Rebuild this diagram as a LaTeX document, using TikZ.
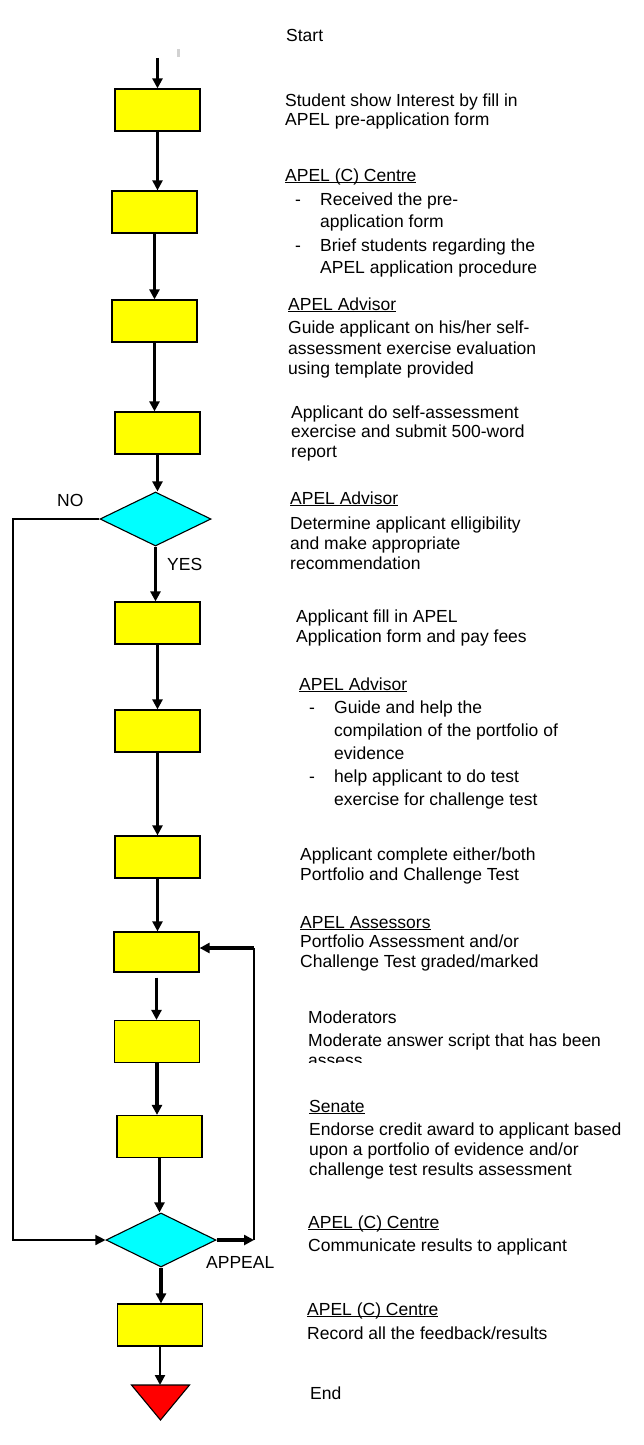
\documentclass[tikz,border=0pt]{standalone}
\usepackage{fontspec}
\setmainfont{Liberation Sans}
\usetikzlibrary{arrows.meta,shapes.geometric}
\definecolor{boxyellow}{RGB}{255,255,0}
\definecolor{decaqua}{RGB}{0,255,255}
\definecolor{endred}{RGB}{255,0,0}
\newcommand\uln[1]{\leavevmode\setbox0\hbox{#1}\rlap{\rule[-2pt]{\wd0}{0.9pt}}\box0}
\newcommand\blk[2]{{\fontsize{17.5}{#1}\selectfont\begin{tabular}[t]{@{}l@{}}#2\end{tabular}}}
\newcommand\itm{\hspace*{10pt}\makebox[25pt][l]{-}}
\newcommand\ind{\hspace*{35pt}}
\begin{document}
\begin{tikzpicture}[x=1pt,y=-1pt,
  box/.style={draw=black,line width=1.2pt,fill=boxyellow,minimum width=85pt,minimum height=42pt,inner sep=0pt},
  dec/.style={diamond,draw=black,line width=1.1pt,fill=decaqua,minimum width=111pt,minimum height=54pt,inner sep=0pt},
  txt/.style={anchor=base west,inner sep=0pt},
  tip/.style={-{Triangle[width=10pt,length=10pt]}},
  thk/.style={line width=3.2pt,tip},
  thn/.style={line width=2.2pt,tip},
  fb/.style={line width=1.4pt}]
\useasboundingbox[fill=white] (0,0) rectangle (644,1445);
% faint mark
\fill[gray!35] (176.5,49) rectangle (179.5,57);
% boxes
\node[box] (b1) at (157.5,110) {};
\node[box] (b2) at (154.5,212) {};
\node[box] (b3) at (154.5,321) {};
\node[box] (b4) at (157.5,433) {};
\node[dec] (d1) at (155.5,519) {};
\node[box] (b5) at (157.5,623) {};
\node[box] (b6) at (157.5,731) {};
\node[box] (b7) at (157.5,857) {};
\node[box,minimum height=40pt] (b8) at (156.5,952) {};
\node[box] (b9) at (157,1041.5) {};
\node[box] (b10) at (159.5,1136.5) {};
\node[dec,minimum width=110pt] (d2) at (161,1240) {};
\node[box] (b11) at (160,1325) {};
\draw[fill=endred,line width=1.1pt] (131.5,1385) -- (189.5,1385) -- (160.5,1420) -- cycle;
\coordinate (et) at (160.5,1385);
\coordinate (s0) at (157.5,58);
% main arrows
\draw[thk] (s0) -- (b1.north);
\draw[thn] (b1.south) -- (b1.south |- b2.north);
\draw[thk] (b2.south) -- (b2.south |- b3.north);
\draw[thk] (b3.south) -- (b3.south |- b4.north);
\draw[thn] (b4.south) -- (b4.south |- d1.north);
\draw[thk] (d1.south) -- (d1.south |- b5.north);
\draw[thk] (b5.south) -- (b5.south |- b6.north);
\draw[thn] (b6.south) -- (b6.south |- b7.north);
\draw[thn] (b7.south) -- (b7.south |- b8.north);
\draw[thk,shorten <=5pt] (b8.south) -- (b8.south |- b9.north);
\draw[thk] (b9.south) -- (b9.south |- b10.north);
\draw[thn] (b10.south) -- (b10.south |- d2.north);
\draw[thk] (d2.south) -- (d2.south |- b11.north);
\draw[thn] (b11.south) -- (b11.south |- et);
% NO loop
\coordinate (lft) at (13,0);
\draw[fb,tip] (d1.west) -- (d1.west -| lft) |- (d2.west);
% APPEAL loop
\coordinate (rgt) at (254,0);
\coordinate (ap) at (254,948);
\draw[thk] (d2.east) -- (d2.east -| rgt);
\draw[fb] (d2.east -| rgt) -- (ap);
\draw[thk] (ap) -- (ap -| b8.east);
% labels
\node[txt] (no) at (57,506) {\fontsize{17.5}{20}\selectfont NO};
\node[txt] (yes) at (167,570) {\fontsize{17.5}{20}\selectfont YES};
\node[txt] (appeal) at (206,1268) {\fontsize{17.5}{20}\selectfont APPEAL};
% right column texts
\node[txt] (t0) at (286,42) {\blk{20}{Start}};
\node[txt] (t1) at (285,106) {\blk{20}{Student show Interest by fill in\\APEL pre-application form}};
\node[txt] (t2) at (285,181) {\blk{22}{\uln{APEL (C) Centre}\\[2pt]\itm Received the pre-\\\ind application form\\[2pt]\itm Brief students regarding the\\\ind APEL application procedure}};
\node[txt] (t3) at (288,310) {\blk{20.5}{\uln{APEL Advisor}\\[3pt]Guide applicant on his/her self-\\assessment exercise evaluation\\using template provided}};
\node[txt] (t4) at (291,418) {\blk{19.5}{Applicant do self-assessment\\exercise and submit 500-word\\report}};
\node[txt] (t5) at (290,504) {\blk{20}{\uln{APEL Advisor}\\[5pt]Determine applicant elligibility\\and make appropriate\\recommendation}};
\node[txt] (t6) at (296,622) {\blk{20}{Applicant fill in APEL\\Application form and pay fees}};
\node[txt] (t7) at (299,690) {\blk{23}{\uln{APEL Advisor}\\\itm Guide and help the\\\ind compilation of the portfolio of\\\ind evidence\\\itm help applicant to do test\\\ind exercise for challenge test}};
\node[txt] (t8) at (300,860) {\blk{20}{Applicant complete either/both\\Portfolio and Challenge Test}};
\node[txt] (t9) at (300,928) {\blk{19.5}{\uln{APEL Assessors}\\Portfolio Assessment and/or\\Challenge Test graded/marked}};
\begin{scope}
\clip (250,990) rectangle (644,1062);
\node[txt] (t10) at (308,1023) {\blk{20}{Moderators\\[3pt]Moderate answer script that has been\\assess}};
\end{scope}
\node[txt] (t11) at (309,1112) {\blk{20}{\uln{Senate}\\[3pt]Endorse credit award to applicant based\\upon a portfolio of evidence and/or\\challenge test results assessment}};
\node[txt] (t12) at (308,1228) {\blk{23}{\uln{APEL (C) Centre}\\Communicate results to applicant}};
\node[txt] (t13) at (307,1315) {\blk{24}{\uln{APEL (C) Centre}\\Record all the feedback/results}};
\node[txt] (t14) at (310,1399) {\blk{20}{End}};
\end{tikzpicture}
\end{document}
